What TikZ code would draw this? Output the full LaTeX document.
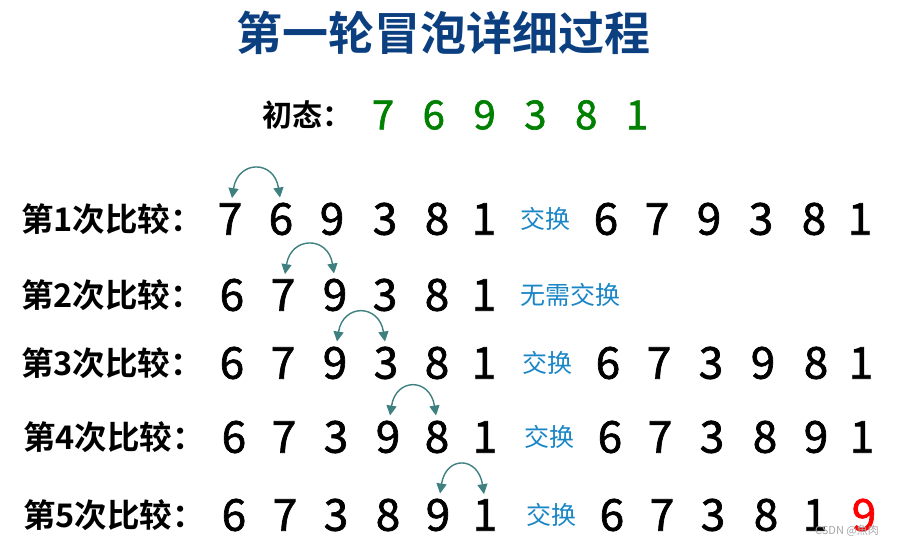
\documentclass[tikz,border=0pt]{standalone}
\usepackage{fontspec}
\setmainfont{Noto Sans CJK SC}
\newfontfamily\cjkbold{Noto Sans CJK SC Bold}
\newfontfamily\digitfont[FakeBold=1.6]{Noto Sans CJK SC}
\usepackage{xcolor}
\usetikzlibrary{arrows.meta}
\definecolor{titleblue}{HTML}{0B3F80}
\definecolor{swapblue}{HTML}{1A86C6}
\definecolor{initgreen}{HTML}{008000}
\definecolor{arcteal}{HTML}{3E7F80}

\begin{document}
\begin{tikzpicture}[
  x=1pt, y=1pt,
  digit/.style={inner sep=0pt, font=\digitfont\fontsize{44}{44}\selectfont},
  steplabel/.style={anchor=west, inner sep=0pt, font=\cjkbold\fontsize{32.5}{33}\selectfont},
  swaptext/.style={anchor=west, inner sep=0pt, text=swapblue, font=\fontsize{25}{25}\selectfont},
  swaparc/.style={arcteal, line width=1.4pt, {Triangle[length=10pt,width=10pt]}-{Triangle[length=10pt,width=10pt]}},
]
  \useasboundingbox (0,0) rectangle (910,545);

  % Title
  \node[font=\cjkbold\fontsize{46}{46}\selectfont, text=titleblue, inner sep=0pt] (title) at (443,512) {第一轮冒泡详细过程};

  % Initial state
  \node[steplabel, font=\cjkbold\fontsize{30}{30}\selectfont] (init) at (262,430) {初态：};
  \foreach \d [count=\i] in {7,6,9,3,8,1}
    \node[digit, text=initgreen, font=\digitfont\fontsize{40}{40}\selectfont] (i\i) at (383+50.8*\i-50.8,430) {\d};

  % Step labels
  \node[steplabel] (s1) at (21,326) {第1次比较：};
  \node[steplabel] (s2) at (21,250) {第2次比较：};
  \node[steplabel] (s3) at (21,182) {第3次比较：};
  \node[steplabel] (s4) at (23,108) {第4次比较：};
  \node[steplabel] (s5) at (23,30) {第5次比较：};

  % Rows before comparison
  \foreach \d/\x [count=\i] in {7/230,6/281,9/332,3/385,8/437,1/484}
    \node[digit] (a1\i) at (\x,326) {\d};
  \foreach \d/\x [count=\i] in {6/232,7/283,9/335,3/385,8/437,1/484}
    \node[digit] (a2\i) at (\x,250) {\d};
  \foreach \d/\x [count=\i] in {6/232,7/283,9/335,3/386,8/437,1/484}
    \node[digit] (a3\i) at (\x,182) {\d};
  \foreach \d/\x [count=\i] in {6/234,7/284,3/336,9/388,8/437,1/485}
    \node[digit] (a4\i) at (\x,108) {\d};
  \foreach \d/\x [count=\i] in {6/234,7/285,3/336,8/388,9/438,1/485}
    \node[digit] (a5\i) at (\x,30) {\d};

  % Results
  \node[swaptext] (w1) at (520,326) {交换};
  \node[swaptext] (w2) at (520,250) {无需交换};
  \node[swaptext] (w3) at (522,182) {交换};
  \node[swaptext] (w4) at (524,108) {交换};
  \node[swaptext] (w5) at (526,30) {交换};

  \foreach \d/\x [count=\i] in {6/606,7/657,9/709,3/761,8/814,1/860}
    \node[digit] (b1\i) at (\x,326) {\d};
  \foreach \d/\x [count=\i] in {6/608,7/659,3/711,9/763,8/816,1/861}
    \node[digit] (b3\i) at (\x,182) {\d};
  \foreach \d/\x [count=\i] in {6/610,7/660,3/712,8/765,9/816,1/862}
    \node[digit] (b4\i) at (\x,108) {\d};
  \foreach \d/\x [count=\i] in {6/612,7/662,3/713,8/766,1/815}
    \node[digit] (b5\i) at (\x,30) {\d};
  \node[digit, text=red] (b56) at (864,30) {9};

  % Swap arcs
  \path (a11.north) ++(2,5) coordinate (p1) (a12.north) ++(-1,5) coordinate (q1);
  \draw[swaparc] (p1) .. controls +(6,38) and +(-6,38) .. (q1);
  \path (a22.north) ++(2,5) coordinate (p2) (a23.north) ++(-1,5) coordinate (q2);
  \draw[swaparc] (p2) .. controls +(6,38) and +(-6,38) .. (q2);
  \path (a33.north) ++(2,5) coordinate (p3) (a34.north) ++(-1,5) coordinate (q3);
  \draw[swaparc] (p3) .. controls +(6,38) and +(-6,38) .. (q3);
  \path (a44.north) ++(2,5) coordinate (p4) (a45.north) ++(-1,5) coordinate (q4);
  \draw[swaparc] (p4) .. controls +(6,38) and +(-6,38) .. (q4);
  \path (a55.north) ++(2,5) coordinate (p5) (a56.north) ++(-1,5) coordinate (q5);
  \draw[swaparc] (p5) .. controls +(6,38) and +(-6,38) .. (q5);

  % Watermark
  \node[anchor=west, inner sep=0pt, text=gray!70, font=\fontsize{11}{11}\selectfont] (mark) at (815,14) {CSDN @魚肉};
\end{tikzpicture}
\end{document}
